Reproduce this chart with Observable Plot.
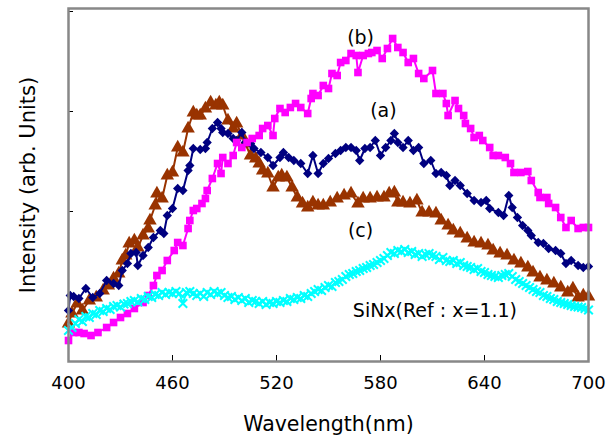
<!DOCTYPE html>
<html><head><meta charset="utf-8">
<script src="https://cdn.jsdelivr.net/npm/d3@7"></script>
<script src="https://cdn.jsdelivr.net/npm/@observablehq/plot@0.6"></script>
<style>html,body{margin:0;padding:0;background:#fff} #chart svg{display:block}</style>
</head><body><div id="chart"></div>
<script>
// (a) blue diamonds: [wavelength nm, intensity]
const seriesA = [[400,510],[401,660],[403,650],[406,630],[410,730],[414,640],[418,680],[422,810],[426,780],[429,760],[431,910],[434,980],[436,1080],[439,1090],[440,960],[443,1060],[446,1140],[449,1240],[453,1310],[455,1280],[457,1460],[460,1530],[463,1730],[466,1710],[469,1910],[470,1960],[472,2130],[476,2120],[479,2130],[480,2190],[483,2330],[486,2390],[488,2330],[489,2290],[492,2280],[495,2230],[497,2210],[500,2290],[502,2190],[505,2180],[507,2130],[511,2090],[515,2040],[518,1960],[522,2040],[524,2090],[527,2040],[530,2010],[534,1980],[538,1880],[541,2060],[544,1880],[547,1980],[550,2030],[554,2080],[557,2110],[560,2140],[563,2140],[566,2110],[568,2010],[571,2130],[574,2140],[577,2210],[580,2060],[583,2140],[586,2210],[588,2280],[590,2190],[593,2140],[596,2210],[599,2110],[602,2140],[605,1980],[609,2010],[612,1880],[615,1890],[618,1860],[620,1760],[623,1810],[626,1760],[630,1680],[634,1610],[638,1590],[641,1610],[643,1530],[648,1490],[651,1460],[654,1660],[656,1540],[659,1440],[662,1360],[665,1310],[667,1260],[671,1190],[674,1180],[677,1130],[681,1110],[684,1080],[687,980],[690,1010],[694,960],[697,940],[700,950]];
// (b) magenta squares
const seriesB = [[400,210],[403,290],[406,290],[409,280],[413,260],[417,290],[422,340],[426,390],[430,440],[434,480],[438,530],[443,590],[446,660],[449,760],[451,860],[454,910],[457,1010],[461,1110],[463,1190],[466,1160],[469,1330],[470,1410],[472,1510],[474,1530],[477,1580],[479,1630],[480,1710],[483,1830],[486,1980],[488,1880],[489,2040],[492,1980],[495,2060],[497,2190],[500,2140],[503,2190],[506,2230],[510,2260],[512,2330],[515,2360],[518,2260],[519,2430],[522,2530],[525,2490],[528,2540],[531,2580],[534,2540],[538,2480],[540,2630],[541,2680],[544,2660],[547,2760],[550,2730],[552,2880],[555,2860],[557,2990],[560,3010],[563,3080],[566,3060],[567,2890],[570,3060],[573,3080],[575,3090],[578,3110],[581,3030],[584,3130],[587,3230],[590,3140],[593,3090],[596,2990],[599,3030],[602,2880],[605,2830],[610,2910],[612,2680],[616,2680],[618,2580],[619,2460],[623,2610],[625,2530],[628,2460],[629,2380],[632,2330],[634,2240],[637,2260],[639,2210],[643,2140],[645,2060],[648,2060],[652,2040],[655,1980],[657,1890],[661,1890],[665,1900],[667,1810],[671,1690],[672,1640],[676,1640],[677,1580],[681,1540],[684,1440],[687,1340],[690,1410],[694,1330],[697,1340],[700,1340]];
// (c) brown triangles
const seriesC = [[400,380],[402,480],[405,580],[408,510],[412,610],[416,640],[420,710],[423,760],[426,830],[429,880],[431,1010],[433,1060],[435,1180],[438,1210],[440,1140],[443,1260],[446,1330],[447,1410],[450,1560],[451,1680],[454,1630],[457,1860],[460,1890],[463,2140],[466,2090],[469,2330],[472,2490],[474,2460],[476,2460],[479,2530],[482,2590],[485,2560],[487,2590],[489,2560],[492,2410],[495,2330],[497,2380],[500,2260],[502,2180],[505,2060],[508,2030],[510,1980],[512,1910],[515,1880],[518,1740],[521,1840],[523,1860],[526,1840],[529,1740],[532,1640],[535,1580],[538,1540],[541,1590],[544,1560],[547,1560],[551,1590],[555,1630],[559,1660],[563,1680],[567,1580],[570,1630],[574,1630],[578,1640],[582,1640],[585,1680],[588,1690],[590,1590],[593,1590],[597,1580],[601,1610],[604,1490],[608,1490],[612,1480],[615,1410],[619,1360],[622,1310],[626,1280],[630,1230],[634,1190],[638,1180],[642,1160],[645,1110],[649,1080],[653,1060],[657,1010],[661,980],[665,940],[668,890],[672,840],[676,810],[680,780],[684,740],[688,690],[691,730],[694,640],[697,660],[700,650]];
// SiNx reference, cyan crosses
const seriesRef = [[400,310],[402,340],[404,380],[406,420],[408,400],[410,450],[412,440],[414,480],[416,470],[418,510],[420,500],[422,530],[424,520],[426,550],[428,560],[430,545],[432,575],[434,580],[436,600],[438,610],[440,595],[442,630],[444,620],[446,650],[448,640],[450,670],[452,660],[454,690],[456,670],[458,690],[460,680],[462,700],[464,680],[466,580],[468,690],[470,700],[472,680],[474,660],[476,680],[478,650],[480,690],[482,670],[484,700],[486,680],[488,690],[490,660],[492,640],[494,650],[496,620],[498,640],[500,610],[502,630],[504,590],[506,610],[508,600],[510,580],[512,600],[514,570],[516,590],[518,580],[520,600],[522,590],[524,610],[526,600],[528,630],[530,620],[532,640],[534,630],[536,660],[538,650],[540,680],[542,700],[544,720],[546,710],[548,740],[550,760],[552,750],[554,790],[556,800],[558,820],[560,850],[562,870],[564,880],[566,900],[568,910],[570,930],[572,940],[574,960],[576,970],[578,990],[580,1010],[582,1030],[584,1060],[586,1090],[588,1080],[590,1110],[592,1100],[594,1120],[596,1090],[598,1100],[600,1070],[602,1080],[604,1050],[606,1070],[608,1080],[610,1060],[612,1050],[614,1020],[616,1040],[618,1010],[620,1000],[622,1010],[624,980],[626,990],[628,960],[630,950],[632,940],[634,920],[636,930],[638,900],[640,890],[642,870],[644,860],[646,850],[648,840],[650,860],[652,870],[654,880],[656,850],[658,820],[660,800],[662,780],[664,760],[666,740],[668,720],[670,700],[672,690],[674,660],[676,650],[678,630],[680,620],[682,600],[684,590],[686,580],[688,570],[690,560],[692,550],[694,545],[696,540],[698,530],[700,515]];

const xTicks = [400, 460, 520, 580, 640, 700];
const yTicks = [500, 1500, 2500, 3500];
const xTitle = "Wavelength(nm)";
const yTitle = "Intensity (arb. Units)";
const noteText = ["(b)", "(a)", "(c)", "SiNx(Ref : x=1.1)"];
const noteWl = [568.5, 581.7, 568.5, 611.4];
const noteInt = [3240, 2510, 1310, 510];

const rows = s => s.map(([w, v]) => ({w, v}));
const notes = noteText.map((t, i) => ({t, w: noteWl[i], v: noteInt[i]}));
const FONT = "DejaVu Sans";

const series = [
  {data: seriesC, color: "#993300", symbol: "triangle", r: 5, fillMark: true},
  {data: seriesA, color: "#000080", symbol: "diamond2", r: 4.2, fillMark: true},
  {data: seriesB, color: "#ff00ff", symbol: "square", r: 4.3, fillMark: true},
  {data: seriesRef, color: "#00ffff", symbol: "times", r: 4, fillMark: false}
];

const marks = [
  Plot.axisX({ticks: xTicks, tickSize: 0, tickPadding: 15, fontSize: 18, label: null}),
  Plot.axisX({ticks: xTicks, tickSize: -6, tickFormat: () => "", label: null, stroke: "#000"}),
  Plot.axisY({ticks: yTicks, tickSize: -5, tickFormat: () => "", label: null, stroke: "#000"}),
  Plot.text([xTitle], {frameAnchor: "bottom", dy: 69, text: d => d, fontSize: 20.5, fill: "#000"}),
  Plot.text([yTitle], {frameAnchor: "left", dx: -40, rotate: -90, textAnchor: "middle", text: d => d, fontSize: 21, fill: "#000"})
];
for (const s of series) {
  marks.push(Plot.line(rows(s.data), {x: "w", y: "v", stroke: s.color, strokeWidth: 2}));
  marks.push(Plot.dot(rows(s.data), s.fillMark
    ? {x: "w", y: "v", symbol: s.symbol, r: s.r, fill: s.color, stroke: "none"}
    : {x: "w", y: "v", symbol: s.symbol, r: s.r, stroke: s.color, strokeWidth: 2, fill: "none"}));
}
marks.push(Plot.frame({stroke: "#888", strokeWidth: 2.5}));
marks.push(Plot.text(notes, {x: "w", y: "v", text: "t", fontSize: 19, fill: "#000", textAnchor: "middle"}));

const chart = Plot.plot({
  width: 606, height: 443,
  marginLeft: 68, marginRight: 18, marginTop: 8, marginBottom: 82,
  style: {fontFamily: FONT, fontSize: "18px", color: "#000", background: "#fff"},
  x: {domain: [400, 700]},
  y: {domain: [0, 3530]},
  marks
});
document.getElementById("chart").append(chart);
</script>
</body></html>
